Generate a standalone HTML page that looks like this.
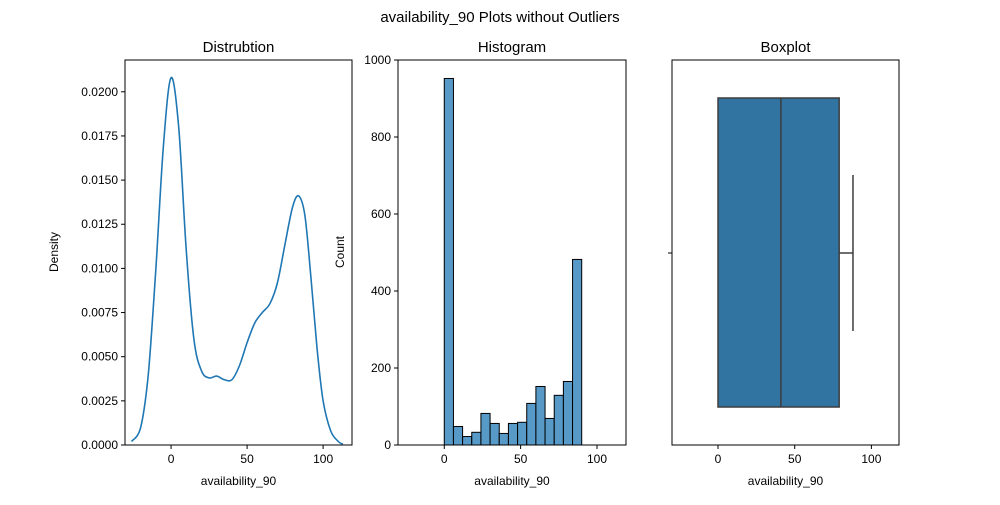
<!DOCTYPE html>
<html><head><meta charset="utf-8"><style>
body{margin:0;background:#fff;font-family:"Liberation Sans",sans-serif}
svg text{font-family:"Liberation Sans",sans-serif;fill:#000}
</style></head><body>
<svg id="fig" width="1000" height="500" xmlns="http://www.w3.org/2000/svg">
<rect width="1000" height="500" fill="#fff"/>
<text x="500" y="22" font-size="15" text-anchor="middle">availability_90 Plots without Outliers</text>
</svg>
<script>
const kdeX=[-26,-20,-15,-10,-5,0,5,10,15,20,25,30,35,40,45,50,55,60,65,70,75,80,84,88,92,96,100,105,110,113];
const kdeY=[0.0002,0.001,0.004,0.010,0.017,0.0208,0.018,0.011,0.006,0.0042,0.0038,0.0039,0.0037,0.0037,0.0045,0.0058,0.0069,0.0075,0.0080,0.0092,0.0114,0.0135,0.0141,0.013,0.0095,0.0055,0.0025,0.0008,0.0002,0.00005];
const binEdges=[0,6,12,18,24,30,36,42,48,54,60,66,72,78,84,90];
const counts=[952,48,22,33,82,56,30,56,59,108,152,69,129,165,482];
const boxStats=[0,41,79,88];// q1, median, q3, upper whisker
const xTicks=[0,50,100];
const kdeTicks=[0,0.0025,0.005,0.0075,0.01,0.0125,0.015,0.0175,0.02];
const kdeTickLabels=["0.0000","0.0025","0.0050","0.0075","0.0100","0.0125","0.0150","0.0175","0.0200"];
const histTicks=[0,200,400,600,800,1000];
const NS="http://www.w3.org/2000/svg";
const svg=document.getElementById('fig');
function el(t,a,p){const e=document.createElementNS(NS,t);for(const k in a)e.setAttribute(k,a[k]);(p||svg).appendChild(e);return e;}
function txt(x,y,s,a,p){const e=el('text',Object.assign({x:x,y:y,'font-size':12},a),p);e.textContent=s;return e;}
const T=60,B=445;
function panel(L,R,name,title,xmin,xmax,ymin,ymax){
 const g=el('g',{});
 
 
 const sx=v=>L+(v-xmin)/(xmax-xmin)*(R-L);
 const sy=v=>B-(v-ymin)/(ymax-ymin)*(B-T);
 const t=txt((L+R)/2,52,title,{'font-size':15,'text-anchor':'middle'},g);
 
 
 return {g,sx,sy,L,R};
}
function frame(p,name){
 const r=el('rect',{x:p.L,y:T,width:p.R-p.L,height:B-T,fill:'none',stroke:'#000','stroke-width':1},p.g);
 
 
 xTicks.forEach(v=>{const x=p.sx(v);el('line',{x1:x,x2:x,y1:B,y2:B+4,stroke:'#000'},p.g);
  const tl=txt(x,B+18,v,{'text-anchor':'middle'},p.g);
  
  });
 const xl=txt((p.L+p.R)/2,485,'availability_90',{'text-anchor':'middle'},p.g);
 
 
}
// Panel 1 KDE
const p1=panel(125,352,'density-panel','Distrubtion',-30.3,119,0,0.0218);
const pts=kdeX.map((v,i)=>[p1.sx(v),p1.sy(kdeY[i])]);
let d='M'+pts[0][0].toFixed(1)+','+pts[0][1].toFixed(1);
for(let i=0;i<pts.length-1;i++){
 const p0=pts[Math.max(0,i-1)],a=pts[i],b=pts[i+1],p3=pts[Math.min(pts.length-1,i+2)];
 const c1=[a[0]+(b[0]-p0[0])/6,a[1]+(b[1]-p0[1])/6],c2=[b[0]-(p3[0]-a[0])/6,b[1]-(p3[1]-a[1])/6];
 d+='C'+c1[0].toFixed(1)+','+c1[1].toFixed(1)+' '+c2[0].toFixed(1)+','+c2[1].toFixed(1)+' '+b[0].toFixed(1)+','+b[1].toFixed(1);
}
const kl=el('path',{d:d,fill:'none',stroke:'#1f77b4','stroke-width':1.6,'stroke-linejoin':'round'},p1.g);


kdeTicks.forEach((v,i)=>{const y=p1.sy(v);el('line',{x1:121,x2:125,y1:y,y2:y,stroke:'#000'},p1.g);
 const tl=txt(118,y+4,kdeTickLabels[i],{'text-anchor':'end'},p1.g);
 
 });
const yl1=txt(58,252,'Density',{'text-anchor':'middle',transform:'rotate(-90 58 252)'},p1.g);


frame(p1,'density');
// Panel 2 histogram
const p2=panel(398,626,'histogram-panel','Histogram',-30.3,119,0,1000);
counts.forEach((c,i)=>{const x0=p2.sx(binEdges[i]),x1=p2.sx(binEdges[i+1]);
 const r=el('rect',{x:x0,y:p2.sy(c),width:x1-x0,height:B-p2.sy(c),fill:'#5799c7',stroke:'#000','stroke-width':1},p2.g);
 
 });
histTicks.forEach(v=>{const y=p2.sy(v);el('line',{x1:394,x2:398,y1:y,y2:y,stroke:'#000'},p2.g);
 const tl=txt(391,y+4,v,{'text-anchor':'end'},p2.g);
 
 });
const yl2=txt(344,252,'Count',{'text-anchor':'middle',transform:'rotate(-90 344 252)'},p2.g);


frame(p2,'histogram');
// Panel 3 boxplot
const p3=panel(672,899,'boxplot-panel','Boxplot',-30,118,0,1);
const bq1=p3.sx(boxStats[0]),bm=p3.sx(boxStats[1]),bq3=p3.sx(boxStats[2]),bw=p3.sx(boxStats[3]);
const bx=el('rect',{x:bq1,y:98,width:bq3-bq1,height:309,fill:'#3274a1',stroke:'#3d3d3d','stroke-width':1.5},p3.g);


const md=el('line',{x1:bm,x2:bm,y1:98,y2:407,stroke:'#3d3d3d','stroke-width':1.5},p3.g);


const wk=el('line',{x1:bq3,x2:bw,y1:253,y2:253,stroke:'#3d3d3d','stroke-width':1.5},p3.g);


const cp=el('line',{x1:bw,x2:bw,y1:175,y2:331,stroke:'#3d3d3d','stroke-width':1.5},p3.g);


el('line',{x1:668,x2:672,y1:253,y2:253,stroke:'#000'},p3.g);
frame(p3,'boxplot');
</script>
</body></html>
